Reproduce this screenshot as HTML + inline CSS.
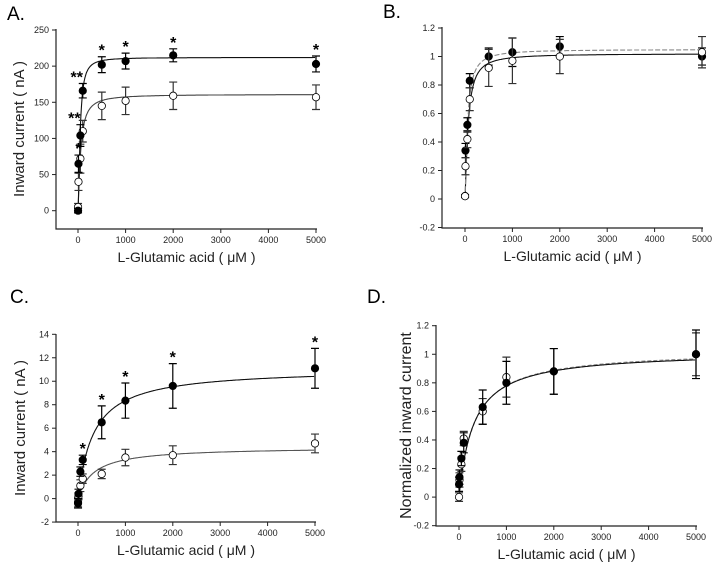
<!DOCTYPE html>
<html><head><meta charset="utf-8"><style>
body{margin:0;background:#fff;}
svg{display:block;font-family:"Liberation Sans",sans-serif;}
</style></head><body>
<svg id="fig" width="714" height="564" viewBox="0 0 714 564"></svg>
<script>
const conc = [1, 10, 50, 100, 500, 1000, 2000, 5000];
const aFilled = [0, 65, 104, 166, 202, 207, 215, 203];
const aFilledErr = [3, 12, 15, 10, 11, 11, 9, 11];
const aOpen = [5, 40, 72, 110, 145, 152, 159, 157];
const aOpenErr = [5, 12, 20, 15, 19, 19, 19, 17];
const aStars = ["", "*", "**", "**", "*", "*", "*", "*"];
const bFilled = [0.02, 0.34, 0.52, 0.83, 1.0, 1.03, 1.07, 1.0];
const bFilledErr = [0.01, 0.05, 0.05, 0.05, 0.06, 0.1, 0.07, 0.06];
const bOpen = [0.02, 0.23, 0.42, 0.70, 0.92, 0.97, 1.0, 1.03];
const bOpenErr = [0.01, 0.06, 0.06, 0.08, 0.13, 0.16, 0.12, 0.11];
const cFilled = [-0.4, 0.4, 2.3, 3.3, 6.5, 8.35, 9.6, 11.1];
const cFilledErr = [0.4, 0.4, 0.4, 0.4, 1.4, 1.5, 1.9, 1.7];
const cOpen = [-0.3, 0.2, 1.1, 1.7, 2.1, 3.5, 3.7, 4.7];
const cOpenErr = [0.4, 0.3, 0.5, 0.4, 0.4, 0.7, 0.8, 0.8];
const cStars = ["", "", "", "*", "*", "*", "*", "*"];
const dFilled = [0.09, 0.14, 0.27, 0.38, 0.63, 0.80, 0.88, 1.0];
const dFilledErr = [0.05, 0.05, 0.05, 0.07, 0.12, 0.15, 0.16, 0.17];
const dOpen = [0.0, 0.12, 0.23, 0.41, 0.60, 0.84, 0.88, 1.0];
const dOpenErr = [0.03, 0.05, 0.05, 0.05, 0.09, 0.14, 0.16, 0.15];
const xTicks = [0, 1000, 2000, 3000, 4000, 5000];
const aTicks = [0, 50, 100, 150, 200, 250];
const bTicks = [-0.2, 0, 0.2, 0.4, 0.6, 0.8, 1, 1.2];
const cTicks = [-2, 0, 2, 4, 6, 8, 10, 12, 14];
const dTicks = [-0.2, 0, 0.2, 0.4, 0.6, 0.8, 1, 1.2];
// fit params [vmax, ec50, hill]
const aFitFilled = [212, 45, 1.6];
const aFitOpen = [161, 55, 1.3];
const bFitFilled = [1.05, 55, 1.3];
const bFitOpen = [1.02, 65, 1.3];
const cFitFilled = [11.1, 330, 1];
const cFitOpen = [4.4, 330, 1];
const dFitFilled = [1.02, 310, 1];
const dFitOpen = [1.03, 320, 1];

const NS = "http://www.w3.org/2000/svg";
const svg = document.getElementById("fig");
function el(tag, attrs, parent, text) {
  const e = document.createElementNS(NS, tag);
  for (const k in attrs) e.setAttribute(k, attrs[k]);
  if (text !== undefined) e.textContent = text;
  (parent || svg).appendChild(e);
  return e;
}
function panel(p) {
  const g = el("g", {});
  
  
  const xs = v => p.x0 + (v) * (p.x5 - p.x0) / 5000;
  const ys = v => p.yA + (v - p.vA) * (p.yB - p.yA) / (p.vB - p.vA);
  const axL = p.axX, axB = p.axY, axR = p.x5 + 1, axT = p.yTop;
  const lab = el("text", {x: p.lx, y: p.ly, "font-size": 19}, g, p.id + ".");
  
  
  const ax = el("path", {d: `M${axL},${axT}V${axB}H${axR}`, stroke: "#222", fill: "none", "stroke-width": 1.2}, g);
  
  
  p.yTicks.forEach(t => {
    const y = ys(t);
    el("line", {x1: axL - 4, x2: axL, y1: y, y2: y, stroke: "#222"}, g);
    const tl = el("text", {x: axL - 7, y: y + 3, "font-size": 9, "text-anchor": "end", fill: "#222"}, g, String(t));
    
    
  });
  xTicks.forEach(t => {
    const x = xs(t);
    el("line", {x1: x, x2: x, y1: axB, y2: axB + 4, stroke: "#222"}, g);
    const tl = el("text", {x: x, y: axB + 14, "font-size": 9, "text-anchor": "middle", fill: "#222"}, g, String(t));
    
    
  });
  const xt = el("text", {x: (axL + axR) / 2, y: axB + 33, "font-size": 14, "text-anchor": "middle", fill: "#222"}, g, "L-Glutamic acid ( μM )");
  
  
  if (p.yTitle) {
    const cy = (axT + axB) / 2;
    const yt = el("text", {x: p.ytx, y: cy, "font-size": p.ytSize, "text-anchor": "middle", fill: "#222", transform: `rotate(-90 ${p.ytx} ${cy})`}, g, p.yTitle);
    
    
  }
  // curves
  [[p.fitOpen, p.openDash, p.openCol], [p.fitFilled, p.filledDash, p.filledCol]].forEach(([f, dash, col], i) => {
    let d = "";
    for (let c = 1; c <= 5000; c += (c < 300 ? 2 : 20)) {
      const v = f[0] * Math.pow(c, f[2]) / (Math.pow(f[1], f[2]) + Math.pow(c, f[2]));
      d += (d ? "L" : "M") + xs(c).toFixed(1) + "," + ys(v).toFixed(1);
    }
    const cv = el("path", {d, fill: "none", stroke: col, "stroke-width": 1.1, "stroke-dasharray": dash}, g);
    
    
  });
  // points
  const series = [[p.open, p.openErr, "#fff", "open"], [p.filled, p.filledErr, "#000", "filled"]];
  if (p.openOnTop) series.reverse();
  series.forEach(([vals, errs, fillc, nm]) => {
    vals.forEach((v, i) => {
      const x = xs(conc[i]), y = ys(v), e = errs[i] * (p.yB - p.yA) / (p.vB - p.vA);
      const eb = el("path", {d: `M${x},${y - e}V${y + e}M${x - 4},${y - e}h8M${x - 4},${y + e}h8`, stroke: nm == "open" ? "#333" : "#000", "stroke-width": 1.2, fill: "none"}, g);
      
      
      const c = el("circle", {cx: x, cy: y, r: 3.7, fill: fillc, stroke: "#000", "stroke-width": 0.8}, g);
      
      
    });
  });
  if (p.stars) p.stars.forEach((s, i) => {
    if (!s) return;
    const x = xs(conc[i]), y = ys(p.filled[i] + p.filledErr[i]) - 3;
    const st = el("text", {x: x - (s.length > 1 ? 6 : 0), y: y + 2, "font-size": 16, "text-anchor": "middle", "font-weight": "bold"}, g, s);
    
    
  });
}
panel({id: "A", lx: 7, ly: 20, axX: 56, axY: 229, yTop: 29, x0: 78, x5: 316, yA: 210.7, vA: 0, yB: 30, vB: 250, yTicks: aTicks,
  yTitle: "Inward current ( nA )", ytx: 24, ytSize: 15, filled: aFilled, filledErr: aFilledErr, open: aOpen, openErr: aOpenErr,
  fitFilled: aFitFilled, fitOpen: aFitOpen, openDash: "", filledDash: "", openCol: "#444", filledCol: "#111", stars: aStars});
panel({id: "B", lx: 383, ly: 18, axX: 442, axY: 228, yTop: 27, x0: 465, x5: 702, yA: 199, vA: 0, yB: 28, vB: 1.2, yTicks: bTicks,
  filled: bFilled, filledErr: bFilledErr, open: bOpen, openErr: bOpenErr, fitFilled: bFitFilled, fitOpen: bFitOpen,
  openDash: "", filledDash: "5,2", openCol: "#111", filledCol: "#888", openOnTop: true});
panel({id: "C", lx: 10, ly: 303, axX: 56, axY: 522, yTop: 334, x0: 78, x5: 315, yA: 498.6, vA: 0, yB: 334.3, vB: 14, yTicks: cTicks,
  yTitle: "Inward current ( nA )", ytx: 25, ytSize: 15, filled: cFilled, filledErr: cFilledErr, open: cOpen, openErr: cOpenErr,
  fitFilled: cFitFilled, fitOpen: cFitOpen, openDash: "", filledDash: "", openCol: "#555", filledCol: "#111", stars: cStars});
panel({id: "D", lx: 367, ly: 303, axX: 436, axY: 526, yTop: 325, x0: 459, x5: 696, yA: 497.1, vA: 0, yB: 325.7, vB: 1.2, yTicks: dTicks,
  yTitle: "Normalized inward current", ytx: 411, ytSize: 16, filled: dFilled, filledErr: dFilledErr, open: dOpen, openErr: dOpenErr,
  fitFilled: dFitFilled, fitOpen: dFitOpen, openDash: "4,2", filledDash: "", openCol: "#888", filledCol: "#111"});
</script>
</body></html>
